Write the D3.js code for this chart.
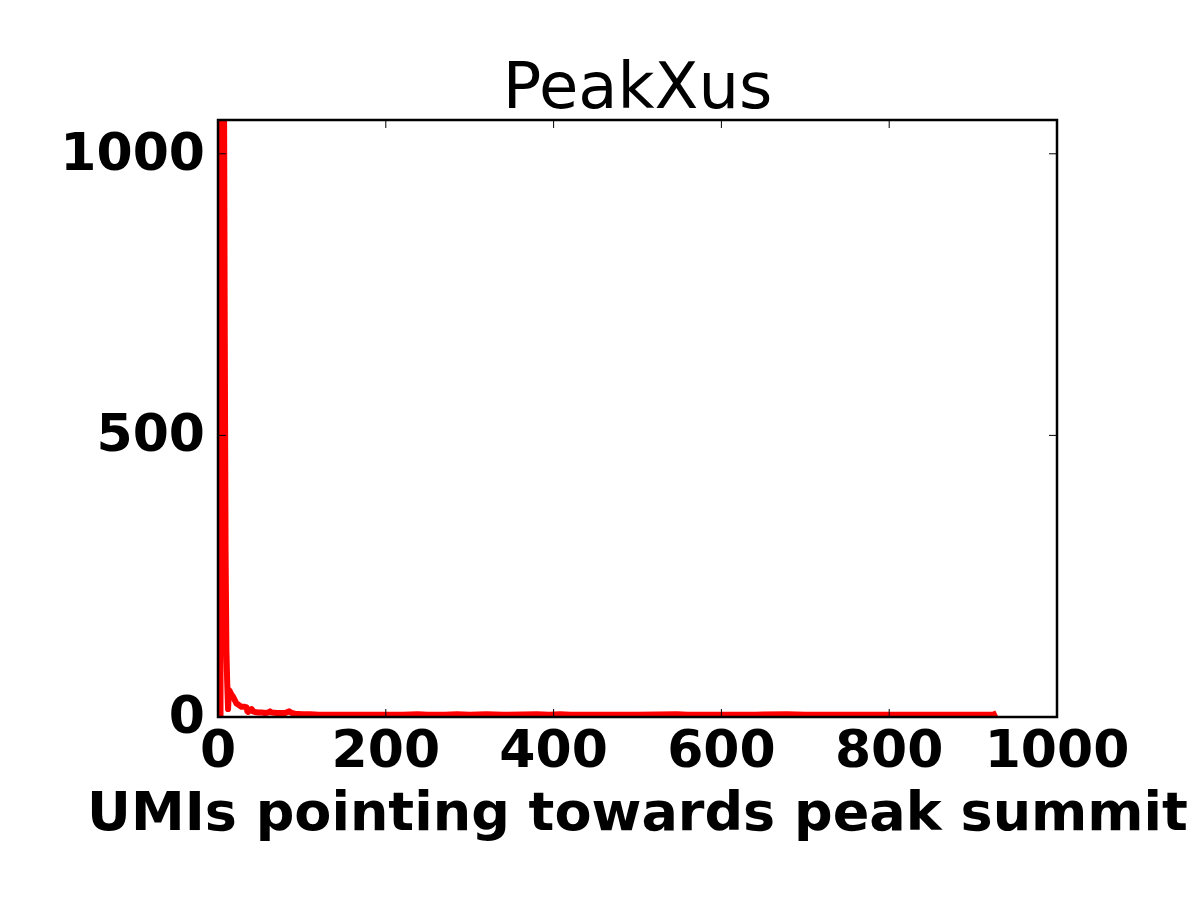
<!DOCTYPE html>
<html>
<head>
<meta charset="utf-8">
<script src="https://cdn.jsdelivr.net/npm/d3@7"></script>
<style>
    body { margin: 0; background: #fff; }
    svg text { font-family: "DejaVu Sans", sans-serif; }
</style>
</head>
<body>
<div id="chart"></div>
<script>
// number of UMIs pointing towards the summit, and how often it occurs
const umis = [3, 4, 5, 6, 7, 8, 9, 10, 11, 12, 13, 14, 16, 18, 20, 22, 24, 26, 28, 30,
              32, 34, 35, 36, 38, 40, 42, 44, 48, 52, 56, 60, 62, 64, 70, 76, 80, 85, 88, 92,
              100, 110, 120, 130, 140, 160, 180, 200, 220, 238, 250, 270, 285, 300, 320, 340,
              380, 395, 408, 420, 460, 500, 547, 560, 600, 640, 678, 700, 760, 820, 880, 924, 928];
const counts = [0, 3200, 2500, 1800, 1200, 700, 300, 120, 60, 14, 48, 46, 40, 36, 30, 24, 22, 20, 18, 18,
                18, 17, 10, 9, 12, 14, 10, 9, 8, 8, 7, 8, 10, 8, 7, 7, 7, 10, 7, 6,
                5, 5, 4, 4, 4, 4, 4, 4, 4, 5, 4, 4, 5, 4, 5, 4,
                5, 4, 5, 4, 4, 4, 5, 4, 4, 4, 5, 4, 4, 4, 4, 4, 7];

const xTicks = [0, 200, 400, 600, 800, 1000];
const yTicks = [0, 500, 1000];
const title = "PeakXus";
const xLabel = "UMIs pointing towards peak summit";

const margin = {top: 120, right: 143, bottom: 183, left: 218};
const width = 1200, height = 900;
const plotW = width - margin.left - margin.right;
const plotH = height - margin.top - margin.bottom;

const svg = d3.select("#chart")
    .append("svg")
    .attr("width", width)
    .attr("height", height);

const g = svg.append("g")
    .attr("transform", "translate(" + margin.left + "," + margin.top + ")");

const x = d3.scaleLinear().domain([0, 1000]).range([0, plotW]);
const y = d3.scaleLinear().domain([0, 1060]).range([plotH, 0]);

g.append("clipPath")
    .attr("id", "plot-clip")
    .append("rect")
    .attr("width", plotW)
    .attr("height", plotH);

const data = umis.map((d, i) => ({u: d, n: counts[i]}));

const line = d3.line()
    .x(d => x(d.u))
    .y(d => y(d.n));

g.append("path")
    .datum(data)
    .attr("clip-path", "url(#plot-clip)")
    .attr("fill", "none")
    .attr("stroke", "#ff0000")
    .attr("stroke-width", 6)
    .attr("stroke-linejoin", "round")
    .attr("d", line);

// ticks point inwards on all four sides
const tickLen = 8;
const tickLines = g.append("g").attr("stroke", "#000").attr("stroke-width", 1);
xTicks.forEach(t => {
    tickLines.append("line").attr("x1", x(t)).attr("x2", x(t)).attr("y1", plotH).attr("y2", plotH - tickLen);
    tickLines.append("line").attr("x1", x(t)).attr("x2", x(t)).attr("y1", 0).attr("y2", tickLen);
});
yTicks.forEach(t => {
    tickLines.append("line").attr("x1", 0).attr("x2", tickLen).attr("y1", y(t)).attr("y2", y(t));
    tickLines.append("line").attr("x1", plotW).attr("x2", plotW - tickLen).attr("y1", y(t)).attr("y2", y(t));
});

// frame
g.append("rect")
    .attr("width", plotW)
    .attr("height", plotH)
    .attr("fill", "none")
    .attr("stroke", "#000")
    .attr("stroke-width", 2.5);

g.append("g")
    .selectAll("text")
    .data(xTicks)
    .enter()
    .append("text")
    .attr("x", d => x(d))
    .attr("y", plotH + 50)
    .attr("text-anchor", "middle")
    .attr("font-size", 52)
    .attr("font-weight", "bold")
    .text(d => d);

g.append("g")
    .selectAll("text")
    .data(yTicks)
    .enter()
    .append("text")
    .attr("x", -13)
    .attr("y", d => y(d) + 16)
    .attr("text-anchor", "end")
    .attr("font-size", 52)
    .attr("font-weight", "bold")
    .text(d => d);

svg.append("text")
    .attr("x", margin.left + plotW / 2)
    .attr("y", 830)
    .attr("text-anchor", "middle")
    .attr("font-size", 54)
    .attr("font-weight", "bold")
    .text(xLabel);

svg.append("text")
    .attr("x", margin.left + plotW / 2)
    .attr("y", 108)
    .attr("text-anchor", "middle")
    .attr("font-size", 64)
    .text(title);
</script>
</body>
</html>
